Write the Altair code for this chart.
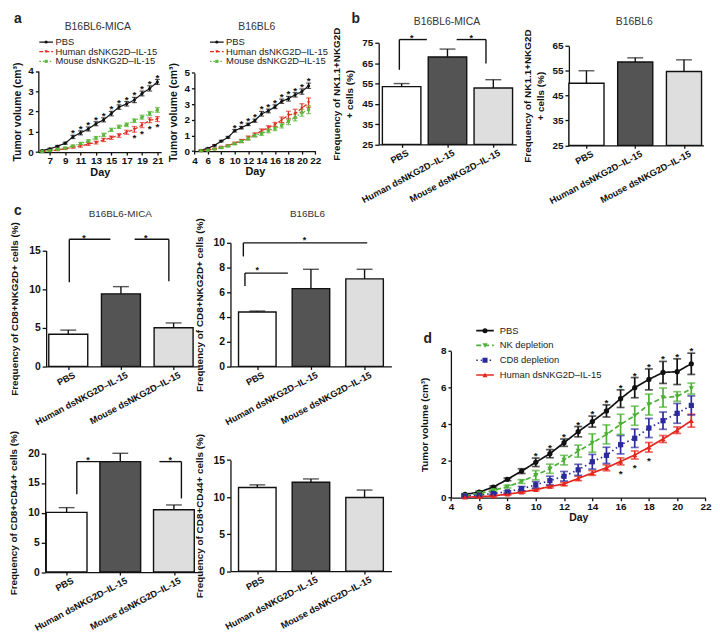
import json
import altair as alt
import pandas as pd

FONT = "Liberation Sans"
W, H = 704, 628
KX = 0.985
KY = 0.975


def sx(x):
    return round((x - 5) * KX, 2)


def sy(y):
    return round((y - 3) * KY, 2)


# ---------------- panel a data ----------------
SERIES_A = ["PBS", "Human dsNKG2D–IL-15", "Mouse dsNKG2D–IL-15"]
COLORS_A = ["#111111", "#e02a20", "#5cb83a"]
DASHES_A = [[1, 0], [4, 2], [1.5, 2]]
SHAPES_A = ["circle", "triangle-down", "square"]

DAYS_AL = list(range(6, 22))
PBS_AL = [0.08, 0.16, 0.29, 0.44, 0.75, 0.95, 1.14, 1.40, 1.59, 1.90, 2.22, 2.38, 2.57, 2.89, 3.14, 3.46]
PBS_AL_ERR = [0.02, 0.03, 0.04, 0.05, 0.08, 0.10, 0.10, 0.10, 0.10, 0.11, 0.11, 0.11, 0.13, 0.12, 0.13, 0.12]
HUM_AL = [0.03, 0.06, 0.10, 0.17, 0.24, 0.30, 0.40, 0.47, 0.60, 0.71, 0.82, 0.98, 1.12, 1.33, 1.57, 1.63]
HUM_AL_ERR = [0.02, 0.02, 0.03, 0.04, 0.05, 0.06, 0.07, 0.07, 0.08, 0.08, 0.09, 0.10, 0.14, 0.13, 0.12, 0.12]
MOU_AL = [0.03, 0.07, 0.13, 0.20, 0.30, 0.42, 0.55, 0.70, 0.85, 1.10, 1.25, 1.35, 1.55, 1.72, 1.90, 2.08]
MOU_AL_ERR = [0.02, 0.02, 0.03, 0.04, 0.05, 0.06, 0.06, 0.07, 0.08, 0.08, 0.08, 0.09, 0.09, 0.10, 0.10, 0.12]
STAR_UP_AL = [10, 11, 12, 13, 14, 15, 16, 17, 18, 19, 20, 21]
STAR_DN_AL = [18, 19, 20, 21]

DAYS_AR = list(range(5, 22))
PBS_AR = [0.06, 0.18, 0.37, 0.64, 0.88, 1.30, 1.50, 1.71, 1.95, 2.39, 2.57, 2.84, 3.19, 3.35, 3.60, 3.81, 4.18]
PBS_AR_ERR = [0.02, 0.03, 0.04, 0.05, 0.06, 0.08, 0.08, 0.08, 0.10, 0.15, 0.12, 0.12, 0.14, 0.15, 0.14, 0.17, 0.17]
HUM_AR = [0.03, 0.08, 0.15, 0.25, 0.35, 0.50, 0.65, 0.85, 1.05, 1.30, 1.50, 1.70, 2.00, 2.30, 2.40, 2.75, 3.10]
HUM_AR_ERR = [0.02, 0.03, 0.04, 0.05, 0.06, 0.08, 0.10, 0.12, 0.12, 0.12, 0.13, 0.14, 0.18, 0.25, 0.28, 0.28, 0.30]
MOU_AR = [0.02, 0.06, 0.13, 0.22, 0.33, 0.48, 0.62, 0.80, 1.00, 1.12, 1.30, 1.45, 1.65, 1.90, 2.15, 2.45, 2.65]
MOU_AR_ERR = [0.02, 0.03, 0.03, 0.04, 0.05, 0.07, 0.08, 0.10, 0.10, 0.12, 0.13, 0.14, 0.17, 0.20, 0.22, 0.22, 0.25]
STAR_UP_AR = [10, 11, 12, 13, 14, 15, 16, 17, 18, 19, 20, 21]

# ---------------- panel d data ----------------
SERIES_D = ["PBS", "NK depletion", "CD8 depletion", "Human dsNKG2D–IL-15"]
COLORS_D = ["#111111", "#4cb034", "#2a2a9a", "#e4261d"]
DASHES_D = [[1, 0], [5, 3], [1.5, 3], [1, 0]]
SHAPES_D = ["circle", "triangle-down", "square", "triangle-up"]
DAYS_D = list(range(5, 22))
PBS_D = [0.18, 0.30, 0.58, 1.00, 1.45, 1.93, 2.40, 3.00, 3.60, 4.15, 4.73, 5.40, 6.00, 6.45, 6.83, 6.87, 7.30]
PBS_D_ERR = [0.04, 0.05, 0.06, 0.07, 0.13, 0.23, 0.22, 0.20, 0.28, 0.30, 0.33, 0.48, 0.55, 0.57, 0.60, 0.70, 0.58]
NK_D = [0.12, 0.23, 0.40, 0.60, 0.88, 1.23, 1.58, 2.05, 2.54, 2.98, 3.45, 4.00, 4.47, 5.08, 5.46, 5.52, 5.95]
NK_D_ERR = [0.03, 0.04, 0.05, 0.07, 0.10, 0.25, 0.25, 0.26, 0.33, 0.50, 0.52, 0.55, 0.52, 0.57, 0.52, 0.26, 0.30]
CD8_D = [0.09, 0.14, 0.23, 0.32, 0.49, 0.70, 0.93, 1.17, 1.52, 1.96, 2.31, 2.89, 3.24, 3.80, 4.20, 4.60, 5.03]
CD8_D_ERR = [0.03, 0.04, 0.05, 0.06, 0.12, 0.18, 0.24, 0.26, 0.30, 0.40, 0.44, 0.50, 0.50, 0.52, 0.47, 0.54, 0.52]
HUM_D = [0.03, 0.05, 0.10, 0.19, 0.30, 0.44, 0.61, 0.75, 1.05, 1.35, 1.63, 1.98, 2.33, 2.75, 3.20, 3.68, 4.20]
HUM_D_ERR = [0.02, 0.03, 0.04, 0.05, 0.05, 0.06, 0.07, 0.09, 0.12, 0.13, 0.16, 0.19, 0.22, 0.26, 0.19, 0.18, 0.35]
STAR_UP_D = [10, 11, 12, 13, 14, 15, 16, 17, 18, 19, 20, 21]
STAR_DN_D = [16, 17, 18]

# ---------------- bar data ----------------
CATS = ["PBS", "Human dsNKG2D–IL-15", "Mouse dsNKG2D–IL-15"]
FILLS = ["#ffffff", "#545454", "#dedede"]

BL_MEAN = [53.5, 68.1, 52.8]
BL_ERR = [1.5, 3.9, 4.1]
BL_SEG_X1 = [-0.05, -0.05, 1.20, 1.84]
BL_SEG_X2 = [-0.05, 0.55, 1.84, 1.84]
BL_SEG_Y1 = [61.8, 76.7, 76.7, 76.7]
BL_SEG_Y2 = [76.7, 76.7, 76.7, 64.9]
BL_STAR_X = [0.22, 1.52]
BL_STAR_Y = [79.0, 79.0]

BR_MEAN = [50.0, 58.5, 54.7]
BR_ERR = [5.0, 1.7, 4.7]

CTL_MEAN = [4.17, 9.4, 5.0]
CTL_ERR = [0.53, 0.93, 0.63]
CTL_SEG_X1 = [0.02, 0.02, 1.26, 1.91]
CTL_SEG_X2 = [0.02, 0.80, 1.91, 1.91]
CTL_SEG_Y1 = [10.9, 16.46, 16.46, 16.46]
CTL_SEG_Y2 = [16.46, 16.46, 16.46, 11.04]
CTL_STAR_X = [0.30, 1.47]
CTL_STAR_Y = [17.0, 17.0]

CTR_MEAN = [4.4, 6.3, 7.08]
CTR_ERR = [0.08, 1.56, 0.78]
CTR_SEG_X1 = [-0.23, -0.23, -0.26, -0.26]
CTR_SEG_X2 = [-0.23, 0.57, -0.26, 2.05]
CTR_SEG_Y1 = [6.51, 7.55, 8.9, 10.0]
CTR_SEG_Y2 = [7.55, 7.55, 10.0, 10.0]
CTR_STAR_X = [0.0, 0.88]
CTR_STAR_Y = [8.05, 10.5]

CBL_MEAN = [10.05, 18.6, 10.5]
CBL_ERR = [0.8, 1.4, 0.8]
CBL_SEG_X1 = [0.19, 0.19, 1.73, 2.14]
CBL_SEG_X2 = [0.19, 0.82, 2.14, 2.14]
CBL_SEG_Y1 = [13.1, 18.6, 18.6, 18.6]
CBL_SEG_Y2 = [18.6, 18.6, 18.6, 12.4]
CBL_STAR_X = [0.40, 1.93]
CBL_STAR_Y = [19.4, 19.4]

CBR_MEAN = [11.3, 12.0, 9.95]
CBR_ERR = [0.35, 0.45, 1.0]


def text_layer(txt, x, y, size, weight="normal", color="#222222", align="center"):
    return alt.Chart(pd.DataFrame({"t": [txt]})).mark_text(
        font=FONT, fontSize=size, fontWeight=weight, color=color, align=align, baseline="middle"
    ).encode(text="t:N", x=alt.value(sx(x)), y=alt.value(sy(y)))


def legend_panel(names, colors, dashes, shapes, x0, y0, row_h, line_len, text_gap, font, lw, msize):
    n = len(names)
    df = pd.DataFrame({
        "grp": names,
        "px0": [sx(x0)] * n,
        "px1": [sx(x0 + line_len)] * n,
        "pm": [sx(x0 + line_len / 2)] * n,
        "pt": [sx(x0 + line_len + text_gap)] * n,
        "py": [sy(y0 + k * row_h) for k in range(n)],
    })
    cs = alt.Scale(domain=names, range=colors)
    base = alt.Chart(df)
    return alt.layer(
        base.mark_rule(strokeWidth=lw).encode(
            x=alt.X("px0:Q", scale=None, axis=None), x2="px1:Q",
            y=alt.Y("py:Q", scale=None, axis=None),
            stroke=alt.Stroke("grp:N", scale=cs, legend=None),
            strokeDash=alt.StrokeDash("grp:N", scale=alt.Scale(domain=names, range=dashes), legend=None)),
        base.mark_point(filled=True, size=msize, opacity=1).encode(
            x=alt.X("pm:Q", scale=None, axis=None), y=alt.Y("py:Q", scale=None, axis=None),
            fill=alt.Fill("grp:N", scale=cs, legend=None),
            shape=alt.Shape("grp:N", scale=alt.Scale(domain=names, range=shapes), legend=None)),
        base.mark_text(align="left", baseline="middle", font=FONT, fontSize=font, color="#222222").encode(
            x=alt.X("pt:Q", scale=None, axis=None), y=alt.Y("py:Q", scale=None, axis=None),
            text="grp:N"),
    )


def line_panel(days, names, means, errs, colors, dashes, shapes, geom, xdom, xvals, ydom, yvals,
               star_up, star_dn, lw, cap, msize, dn_dy, ytitle_pad, ytitle_size, xtitle_size):
    L, R, T, B = geom
    rows = []
    for n, m, e in zip(names, means, errs):
        for d, v, er in zip(days, m, e):
            rows.append({"day": d, "grp": n, "mean": v, "lo": v - er, "hi": v + er})
    df = pd.DataFrame(rows)
    xs = alt.Scale(domain=xdom, range=[sx(L), sx(R)], nice=False, zero=False)
    ys = alt.Scale(domain=ydom, range=[sy(B), sy(T)], nice=False, zero=False)
    xa = alt.Axis(orient="bottom", offset=sy(B) - H, values=xvals, title="Day", format="d",
                  labelFontSize=10, titleFontSize=xtitle_size, labelPadding=1, titlePadding=1, tickSize=3)
    ya = alt.Axis(orient="left", offset=-sx(L), values=yvals, title="Tumor volume (cm³)", format="d",
                  labelFontSize=10, titleFontSize=ytitle_size, tickSize=3, labelPadding=2,
                  titlePadding=ytitle_pad)

    def X(f):
        return alt.X(f, type="quantitative", scale=xs, axis=xa)

    def Y(f):
        return alt.Y(f, type="quantitative", scale=ys, axis=ya)

    cscale = alt.Scale(domain=names, range=colors)
    base = alt.Chart(df)
    layers = [
        base.mark_rule(strokeWidth=lw).encode(
            x=X("day"), y=Y("lo"), y2="hi",
            stroke=alt.Stroke("grp:N", scale=cscale, legend=None)),
        base.mark_tick(orient="horizontal", size=cap, thickness=lw).encode(
            x=X("day"), y=Y("hi"), fill=alt.Fill("grp:N", scale=cscale, legend=None)),
        base.mark_tick(orient="horizontal", size=cap, thickness=lw).encode(
            x=X("day"), y=Y("lo"), fill=alt.Fill("grp:N", scale=cscale, legend=None)),
        base.mark_line(strokeWidth=lw).encode(
            x=X("day"), y=Y("mean"),
            color=alt.Color("grp:N", scale=cscale, legend=None),
            strokeDash=alt.StrokeDash("grp:N", scale=alt.Scale(domain=names, range=dashes), legend=None)),
        base.mark_point(filled=True, size=msize, opacity=1).encode(
            x=X("day"), y=Y("mean"),
            fill=alt.Fill("grp:N", scale=cscale, legend=None),
            shape=alt.Shape("grp:N", scale=alt.Scale(domain=names, range=shapes), legend=None)),
    ]
    up = df[(df.grp == names[0]) & (df.day.isin(star_up))][["day", "hi"]].rename(columns={"hi": "v"})
    layers.append(alt.Chart(up).mark_text(text="*", font=FONT, fontSize=10, fontWeight="bold",
                                          baseline="alphabetic", dy=1, color="#111111")
                  .encode(x=X("day"), y=Y("v")))
    if star_dn:
        hum_name = "Human dsNKG2D–IL-15"
        dn = df[(df.grp == hum_name) & (df.day.isin(star_dn))][["day", "lo"]].rename(columns={"lo": "v"})
        layers.append(alt.Chart(dn).mark_text(text="*", font=FONT, fontSize=10, fontWeight="bold",
                                              baseline="alphabetic", dy=dn_dy, color="#111111")
                      .encode(x=X("day"), y=Y("v")))
    return layers


def bar_panel(means, errs, geom, xdom, hw, ydom, yvals, ytitle, seg=None, stars=None, cap=16,
              ytitle_pad=7, ylabel_size=10):
    L, R, T, B = geom
    df = pd.DataFrame({"cat": CATS, "i": [0, 1, 2], "mean": means, "err": errs})
    df["x0"] = df["i"] - hw
    df["x1"] = df["i"] + hw
    df["top"] = df["mean"] + df["err"]
    df["base"] = ydom[0]
    xs = alt.Scale(domain=xdom, range=[sx(L), sx(R)], nice=False, zero=False)
    ys = alt.Scale(domain=ydom, range=[sy(B), sy(T)], nice=False, zero=False)
    label_expr = json.dumps(CATS, ensure_ascii=False) + "[datum.value]"
    xa = alt.Axis(orient="bottom", offset=sy(B) - H, values=[0, 1, 2], labelExpr=label_expr,
                  labelAngle=-28, labelAlign="right", labelBaseline="top", title=None,
                  labelFontSize=9.3, tickSize=3, labelPadding=1, labelOffset=4)
    ya = alt.Axis(orient="left", offset=-sx(L), values=yvals, title=ytitle, format="d",
                  labelFontSize=ylabel_size, titleFontSize=10, tickSize=4, labelPadding=2,
                  titlePadding=ytitle_pad, titleLineHeight=13)

    def X(f):
        return alt.X(f, type="quantitative", scale=xs, axis=xa)

    def Y(f):
        return alt.Y(f, type="quantitative", scale=ys, axis=ya)

    base = alt.Chart(df)
    layers = [
        base.mark_bar(stroke="#111111", strokeWidth=1.4).encode(
            x=X("x0"), x2="x1", y=Y("mean"), y2="base",
            fill=alt.Fill("cat:N", scale=alt.Scale(domain=CATS, range=FILLS), legend=None)),
        base.mark_rule(color="#111111", strokeWidth=1.4).encode(x=X("i"), y=Y("mean"), y2="top"),
        base.mark_tick(orient="horizontal", size=cap, thickness=1.4, color="#111111").encode(
            x=X("i"), y=Y("top")),
    ]
    if seg is not None:
        sdf = pd.DataFrame({"x1": seg[0], "x2": seg[1], "y1": seg[2], "y2": seg[3]})
        layers.append(alt.Chart(sdf).mark_rule(color="#111111", strokeWidth=1.4).encode(
            x=X("x1"), x2="x2", y=Y("y1"), y2="y2"))
    if stars is not None:
        tdf = pd.DataFrame({"x": stars[0], "y": stars[1]})
        layers.append(alt.Chart(tdf).mark_text(text="*", font=FONT, fontSize=9, fontWeight="bold",
                                               baseline="alphabetic", dy=6, color="#111111")
                      .encode(x=X("x"), y=Y("y")))
    return layers


panels = []

# ---- a left ----
panels.append(alt.layer(*line_panel(
    DAYS_AL, SERIES_A, [PBS_AL, HUM_AL, MOU_AL], [PBS_AL_ERR, HUM_AL_ERR, MOU_AL_ERR],
    COLORS_A, DASHES_A, SHAPES_A,
    (29, 155, 63, 147), [5.5, 21.5], [7, 9, 11, 13, 15, 17, 19, 21], [0, 4], [0, 1, 2, 3, 4],
    STAR_UP_AL, STAR_DN_AL, 1.2, 5, 10, 9, 5, 10.5, 11),
    text_layer("B16BL6-MICA", 90, 17, 10.5, color="#333333"),
    text_layer("a", 4, 9, 14, weight="bold", align="left"),
))
panels.append(legend_panel(SERIES_A, COLORS_A, DASHES_A, SHAPES_A, 30, 33, 10, 14, 2.5, 9.5, 1.2, 10))

# ---- a right ----
panels.append(alt.layer(*line_panel(
    DAYS_AR, SERIES_A, [PBS_AR, HUM_AR, MOU_AR], [PBS_AR_ERR, HUM_AR_ERR, MOU_AR_ERR],
    COLORS_A, DASHES_A, SHAPES_A,
    (189, 313, 65, 146), [4, 22], [4, 6, 8, 10, 12, 14, 16, 18, 20, 22], [0, 5], [0, 1, 2, 3, 4, 5],
    STAR_UP_AR, [], 1.2, 5, 10, 9, 5, 10.5, 11),
    text_layer("B16BL6", 253, 17, 10.5, color="#333333"),
))
panels.append(legend_panel(SERIES_A, COLORS_A, DASHES_A, SHAPES_A, 205, 33, 10, 14, 2.5, 9.5, 1.2, 10))

# ---- b left ----
panels.append(alt.layer(*bar_panel(
    BL_MEAN, BL_ERR, (378, 519, 34, 139), [-0.5, 2.5], 0.42, [25, 75], [25, 35, 45, 55, 65, 75],
    ["Frequency of NK1.1+NKG2D", "+ cells (%)"],
    seg=(BL_SEG_X1, BL_SEG_X2, BL_SEG_Y1, BL_SEG_Y2), stars=(BL_STAR_X, BL_STAR_Y)),
    text_layer("B16BL6-MICA", 448, 12, 10.5, color="#333333"),
    text_layer("b", 350, 9, 14, weight="bold", align="left"),
))

# ---- b right ----
panels.append(alt.layer(*bar_panel(
    BR_MEAN, BR_ERR, (573, 711, 37, 140), [-0.36, 2.4], 0.36, [25, 65], [25, 35, 45, 55, 65],
    ["Frequency of NK1.1+NKG2D", "+ cells (%)"]),
    text_layer("B16BL6", 640, 12, 10.5, color="#333333"),
))

# ---- c top left ----
panels.append(alt.layer(*bar_panel(
    CTL_MEAN, CTL_ERR, (37, 194.7, 249, 369), [-0.42, 2.5], 0.37, [0, 15], [0, 5, 10, 15],
    "Frequency of CD8+NKG2D+ cells (%)",
    seg=(CTL_SEG_X1, CTL_SEG_X2, CTL_SEG_Y1, CTL_SEG_Y2), stars=(CTL_STAR_X, CTL_STAR_Y),
    ytitle_pad=9, ylabel_size=10.5),
    text_layer("B16BL6-MICA", 113, 211, 10, color="#333333"),
    text_layer("c", 4, 208, 14, weight="bold", align="left"),
))

# ---- c top right ----
panels.append(alt.layer(*bar_panel(
    CTR_MEAN, CTR_ERR, (226, 391, 241, 369), [-0.5, 2.5], 0.35, [0, 10], [0, 2, 4, 6, 8, 10],
    "Frequency of CD8+NKG2D+ cells (%)",
    seg=(CTR_SEG_X1, CTR_SEG_X2, CTR_SEG_Y1, CTR_SEG_Y2), stars=(CTR_STAR_X, CTR_STAR_Y),
    ytitle_pad=9, ylabel_size=10.5),
    text_layer("B16BL6", 305, 211, 10, color="#333333"),
))

# ---- c bottom left ----
panels.append(alt.layer(*bar_panel(
    CBL_MEAN, CBL_ERR, (36, 195.5, 459, 582), [-0.4, 2.5], 0.38, [0, 20], [0, 5, 10, 15, 20],
    "Frequency of CD8+CD44+ cells (%)",
    seg=(CBL_SEG_X1, CBL_SEG_X2, CBL_SEG_Y1, CBL_SEG_Y2), stars=(CBL_STAR_X, CBL_STAR_Y),
    ytitle_pad=9, ylabel_size=10.5),
))

# ---- c bottom right ----
panels.append(alt.layer(*bar_panel(
    CBR_MEAN, CBR_ERR, (226, 391, 466, 581), [-0.5, 2.5], 0.35, [0, 15], [0, 5, 10, 15],
    "Frequency of CD8+CD44+ cells (%)", ytitle_pad=9, ylabel_size=10.5),
))

# ---- d ----
panels.append(alt.layer(*line_panel(
    DAYS_D, SERIES_D, [PBS_D, NK_D, CD8_D, HUM_D], [PBS_D_ERR, NK_D_ERR, CD8_D_ERR, HUM_D_ERR],
    COLORS_D, DASHES_D, SHAPES_D,
    (452, 713, 353, 505), [4, 22], [4, 6, 8, 10, 12, 14, 16, 18, 20, 22], [0, 8], [0, 2, 4, 6, 8],
    STAR_UP_D, STAR_DN_D, 1.7, 8, 28, 12.5, 11, 10, 10.5),
    text_layer("d", 424, 341, 14, weight="bold", align="left"),
))
panels.append(legend_panel(SERIES_D, COLORS_D, DASHES_D, SHAPES_D, 478, 332, 15.3, 18, 6, 9.5, 1.7, 26))

chart = alt.layer(*panels).resolve_scale(
    x="independent", y="independent", color="independent", fill="independent",
    stroke="independent", strokeDash="independent", shape="independent",
).resolve_axis(x="independent", y="independent").resolve_legend(
    color="independent", fill="independent", stroke="independent",
    strokeDash="independent", shape="independent",
).properties(width=W, height=H, padding=0).configure_view(stroke=None).configure_axis(
    labelFont=FONT, titleFont=FONT, labelFontWeight="bold", titleFontWeight="bold",
    labelColor="#111111", titleColor="#111111", domainColor="#111111", tickColor="#111111",
    domainWidth=1.3, tickWidth=1.3, grid=False, labelFlush=False, labelOverlap=False,
)

chart.save("out.html", embed_options={"renderer": "svg", "actions": False})
